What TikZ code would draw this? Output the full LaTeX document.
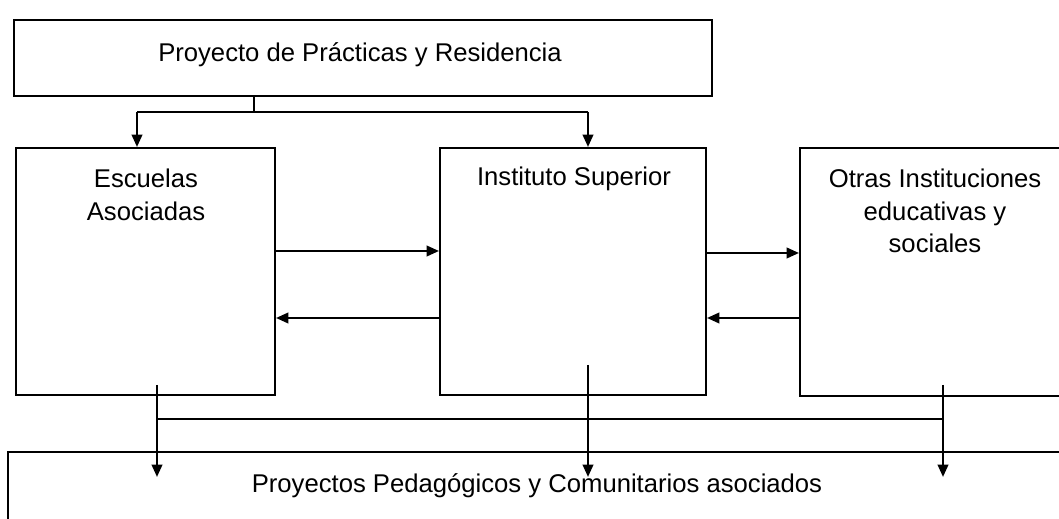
\documentclass[tikz,border=0pt]{standalone}
\usepackage{fontspec}
\setmainfont{Liberation Sans}
\usetikzlibrary{arrows.meta, positioning, calc}
\tikzset{
    caja/.style={draw, line width=1.2pt, rectangle, inner sep=0pt},
    texto/.style={align=center, inner sep=0pt, font=\fontsize{14.6}{18.5}\selectfont},
    linea/.style={line width=1.2pt},
    flecha/.style={-{Triangle[length=7pt, width=6pt]}, line width=1.2pt},
}
\begin{document}
\begin{tikzpicture}[x=0.02cm, y=-0.02cm]
\useasboundingbox (0,0) rectangle (1059,519);
% cajas
\node[caja, minimum width=13.96cm, minimum height=1.52cm] (pp) at (363,58) {};
\node[caja, minimum width=5.18cm, minimum height=4.94cm] (esc) at (145.5,271.5) {};
\node[caja, minimum width=5.32cm, minimum height=4.94cm] (ins) at (573,271.5) {};
\node[caja, minimum width=5.3cm, minimum height=4.96cm] (otr) at (932.5,272) {};
\node[caja, minimum width=21.24cm, minimum height=1.76cm] (pb) at (539,496) {};
% textos
\node[texto] (tpp) at (360,55) {Proyecto de Prácticas y Residencia};
\node[texto] (tesc) at (146,195) {Escuelas\\Asociadas};
\node[texto] (tins) at (574,179) {Instituto Superior};
\node[texto] (totr) at (935,211) {Otras Instituciones\\educativas y\\sociales};
\node[texto] (tpb) at (537,486) {Proyectos Pedagógicos y Comunitarios asociados};
% conexiones superiores
\coordinate (t1) at (254,112);
\coordinate (t0) at (137,112);
\coordinate (t2) at (588,112);
\draw[linea] (pp.south -| t1) -- (t1);
\draw[linea] (t0) -- (t2);
\draw[flecha] (t0) -- (t0 |- esc.north);
\draw[flecha] (t2) -- (t2 |- ins.north);
% conexiones laterales
\draw[flecha] (esc.east |- 0,251) -- (ins.west |- 0,251);
\draw[flecha] (ins.west |- 0,318) -- (esc.east |- 0,318);
\draw[flecha] (ins.east |- 0,253) -- (otr.west |- 0,253);
\draw[flecha] (otr.west |- 0,318) -- (ins.east |- 0,318);
% conexiones inferiores
\coordinate (b0) at (157,385);
\coordinate (b1) at (588,365);
\coordinate (b2) at (943,385);
\draw[linea] (b0 |- 0,419) -- (b2 |- 0,419);
\foreach \b in {b0,b1,b2} {\draw[flecha] (\b) -- ($(\b |- pb.north)+(0,26)$);}
\end{tikzpicture}
\end{document}
